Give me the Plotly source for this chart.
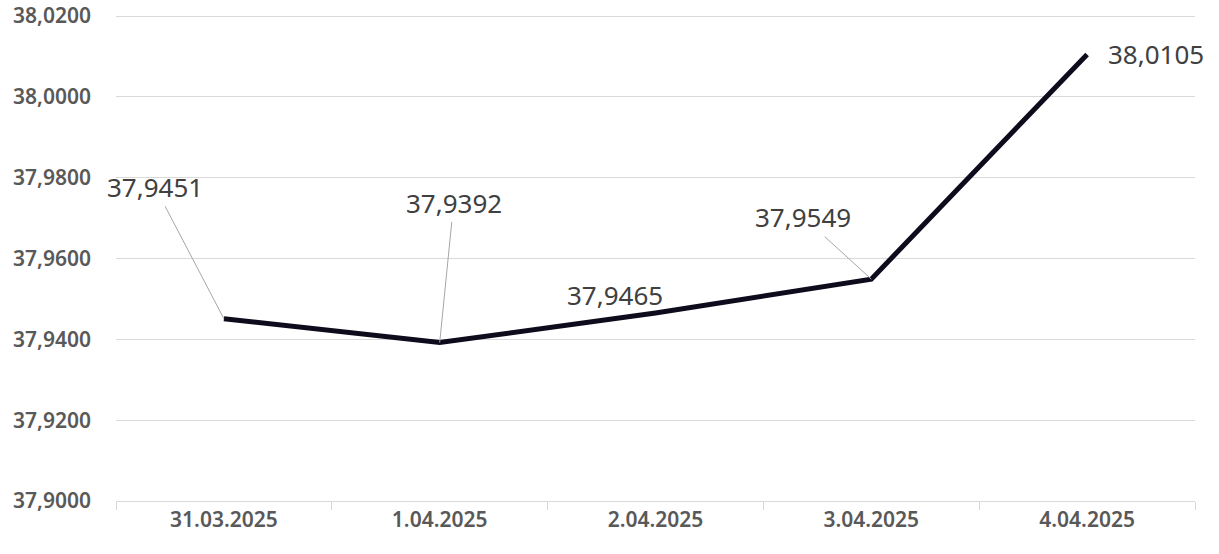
import plotly.graph_objects as go

categories = ["31.03.2025", "1.04.2025", "2.04.2025", "3.04.2025", "4.04.2025"]
values = [37.9451, 37.9392, 37.9465, 37.9549, 38.0105]
label_texts = ["37,9451", "37,9392", "37,9465", "37,9549", "38,0105"]
y_ticks = [37.90, 37.92, 37.94, 37.96, 37.98, 38.00, 38.02]

# label offsets (pixels) and whether a leader line is drawn
label_ax = [-69, 14, -41, -68, 69]
label_ay = [-132, -140, -18, -62, 0]
leader = [True, True, False, True, False]

FONT = "Noto Sans"

fig = go.Figure()
fig.add_trace(go.Scatter(
    x=categories, y=values, mode="lines",
    line=dict(color="#0d0b1c", width=5),
    hoverinfo="skip", showlegend=False,
))

for c, v, t, ax, ay, ld in zip(categories, values, label_texts, label_ax, label_ay, leader):
    if ld:
        fig.add_annotation(x=c, y=v, text=t, showarrow=True, arrowhead=0,
                           arrowwidth=1, arrowcolor="#a6a6a6", ax=ax, ay=ay,
                           standoff=0, startstandoff=0,
                           font=dict(family=FONT, size=26, color="#404040"))
    else:
        fig.add_annotation(x=c, y=v, text=t, showarrow=False,
                           xshift=ax, yshift=-ay,
                           font=dict(family=FONT, size=26, color="#404040"))

fig.update_layout(
    width=1219, height=554,
    margin=dict(l=116, r=24, t=14, b=53),
    paper_bgcolor="white", plot_bgcolor="white",
    separators=", ",
    font=dict(family=FONT),
    xaxis=dict(
        type="category", showgrid=False, showline=True, linecolor="#d9d9d9",
        linewidth=1, ticks="outside", tickson="boundaries", ticklen=8,
        tickcolor="#d9d9d9", automargin=False, ticklabeloverflow="allow",
        tickfont=dict(family=FONT, size=21, color="#595959", weight=600),
        range=[-0.5, 4.5], fixedrange=True,
    ),
    yaxis=dict(
        range=[37.90, 38.0205], tickvals=y_ticks, tickformat=".4f",
        showgrid=True, gridcolor="#d9d9d9", gridwidth=1,
        showline=False, zeroline=False, ticklabelstandoff=24, automargin=False,
        ticklabeloverflow="allow",
        tickfont=dict(family=FONT, size=21, color="#595959", weight=600),
        fixedrange=True,
    ),
)

fig.write_html("out.html", config={"displayModeBar": False},
               post_script="document.body.style.margin='0';")
